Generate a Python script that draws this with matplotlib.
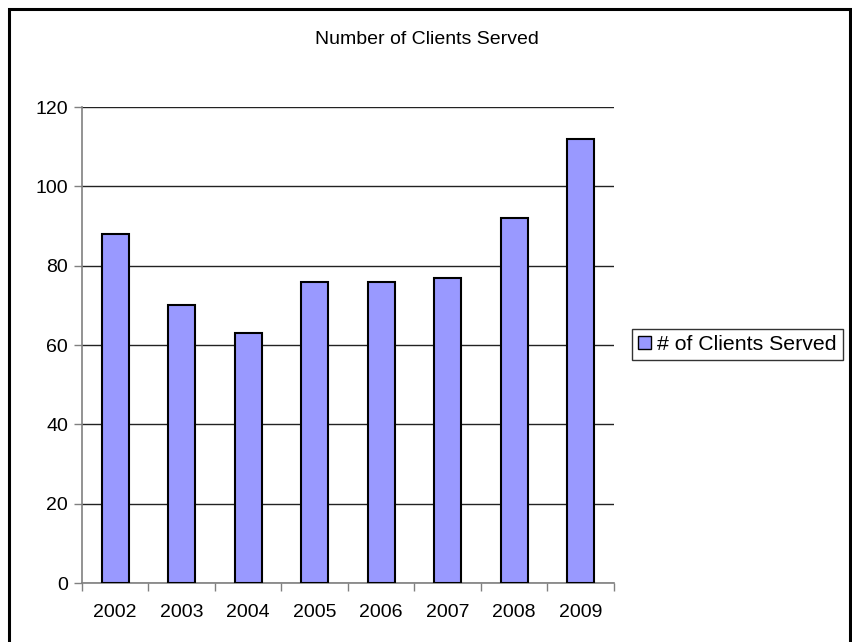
import matplotlib
matplotlib.use("Agg")
import matplotlib.pyplot as plt
from matplotlib.patches import Rectangle
import numpy as np

plt.rcParams['font.family'] = ['Liberation Sans', 'DejaVu Sans']

# data
years = ['2002', '2003', '2004', '2005', '2006', '2007', '2008', '2009']
clients = [88, 70, 63, 76, 76, 77, 92, 112]
yticks = [0, 20, 40, 60, 80, 100, 120]

W, H = 853, 642
fig = plt.figure(figsize=(W / 100, H / 100), dpi=100)
ax = fig.add_axes([82 / W, 1 - 583 / H, (614 - 82) / W, (583 - 107) / H])

x = np.arange(len(years))
bars = ax.bar(x, clients, width=0.4, color='#9999FF', edgecolor='black',
              linewidth=1.5, label='# of Clients Served', zorder=3)

ax.set_xlim(-0.5, len(years) - 0.5)
ax.set_ylim(0, 120)
ax.set_yticks(yticks)
ax.set_yticklabels([str(v) for v in yticks], fontsize=14)
ax.yaxis.grid(True, color='#222222', linewidth=1, zorder=0)

# category ticks sit on the boundaries, labels in the middle
ax.set_xticks(np.arange(len(years) + 1) - 0.5)
ax.set_xticklabels([])
ax.set_xticks(x, minor=True)
ax.set_xticklabels(years, minor=True, fontsize=14)
ax.tick_params(axis='x', which='minor', length=0, pad=15)
ax.tick_params(axis='x', which='major', length=6, width=1, color='#808080', direction='out')
ax.tick_params(axis='y', length=6, width=1, color='#808080', direction='out', pad=4)

for s in ['top', 'right']:
    ax.spines[s].set_visible(False)
for s in ['left', 'bottom']:
    ax.spines[s].set_color('#808080')
    ax.spines[s].set_linewidth(1.2)

fig.text(0.5, 1 - 40 / H, 'Number of Clients Served', ha='center', va='center', fontsize=14)

leg = fig.legend(handles=[bars], loc='center left',
                 bbox_to_anchor=(632 / W, 1 - 344.5 / H), fontsize=15.3,
                 frameon=True, fancybox=False, edgecolor='black',
                 handlelength=0.6, handleheight=0.6, handletextpad=0.3,
                 borderpad=0.3, borderaxespad=0)
leg.get_frame().set_linewidth(1)
for p in leg.get_patches():
    p.set_linewidth(1)

# outer chart frame
fig.patches.append(Rectangle((9 / W, -0.01), (850 - 9) / W, 1 - 9 / H + 0.01,
                             transform=fig.transFigure, fill=False,
                             edgecolor='black', linewidth=2.2))

fig.savefig('out.png', dpi=100)
